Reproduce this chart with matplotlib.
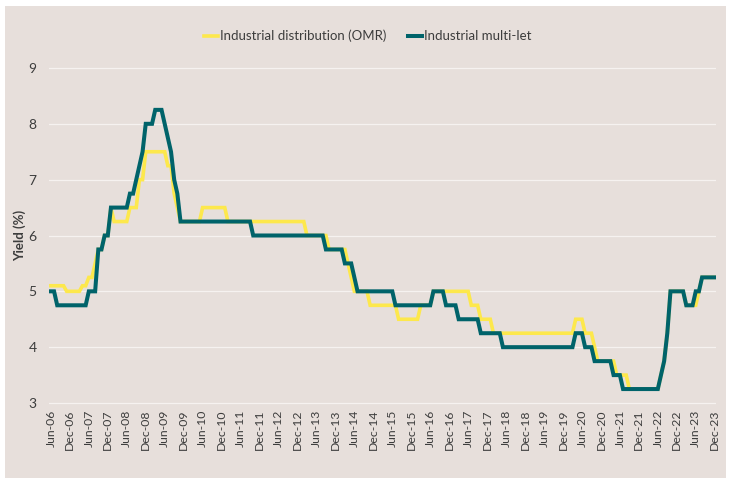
import matplotlib
matplotlib.use("Agg")
import matplotlib.pyplot as plt
from matplotlib.patches import Rectangle

plt.rcParams['font.family'] = ['Lato', 'DejaVu Sans']

# monthly yields (%), Jun-06 .. Dec-23, one row per calendar year
distribution = (
    [5.1, 5.1, 5.1, 5.1, 5.1, 5.0, 5.0]                                       # 2006 Jun-Dec
    + [5.0, 5.0, 5.0, 5.1, 5.1, 5.25, 5.25, 5.5, 5.75, 5.75, 6.0, 6.0]        # 2007
    + [6.5, 6.25, 6.25, 6.25, 6.25, 6.25, 6.5, 6.5, 6.5, 7.0, 7.0, 7.5]       # 2008
    + [7.5, 7.5, 7.5, 7.5, 7.5, 7.5, 7.25, 7.25, 6.75, 6.5, 6.25, 6.25]       # 2009
    + [6.25, 6.25, 6.25, 6.25, 6.25, 6.5, 6.5, 6.5, 6.5, 6.5, 6.5, 6.5]       # 2010
    + [6.5, 6.25, 6.25, 6.25, 6.25, 6.25, 6.25, 6.25, 6.25, 6.25, 6.25, 6.25]  # 2011
    + [6.25, 6.25, 6.25, 6.25, 6.25, 6.25, 6.25, 6.25, 6.25, 6.25, 6.25, 6.25]  # 2012
    + [6.25, 6.25, 6.0, 6.0, 6.0, 6.0, 6.0, 6.0, 6.0, 5.75, 5.75, 5.75]       # 2013
    + [5.75, 5.75, 5.75, 5.5, 5.25, 5.0, 5.0, 5.0, 5.0, 5.0, 4.75, 4.75]      # 2014
    + [4.75, 4.75, 4.75, 4.75, 4.75, 4.75, 4.75, 4.5, 4.5, 4.5, 4.5, 4.5]     # 2015
    + [4.5, 4.5, 4.75, 4.75, 4.75, 4.75, 5.0, 5.0, 5.0, 5.0, 5.0, 5.0]        # 2016
    + [5.0, 5.0, 5.0, 5.0, 5.0, 5.0, 4.75, 4.75, 4.75, 4.5, 4.5, 4.5]         # 2017
    + [4.5, 4.25, 4.25, 4.25, 4.25, 4.25, 4.25, 4.25, 4.25, 4.25, 4.25, 4.25]  # 2018
    + [4.25, 4.25, 4.25, 4.25, 4.25, 4.25, 4.25, 4.25, 4.25, 4.25, 4.25, 4.25]  # 2019
    + [4.25, 4.25, 4.25, 4.5, 4.5, 4.5, 4.25, 4.25, 4.25, 4.0, 3.75, 3.75]    # 2020
    + [3.75, 3.75, 3.75, 3.75, 3.5, 3.5, 3.5, 3.5, 3.25, 3.25, 3.25, 3.25]    # 2021
    + [3.25, 3.25, 3.25, 3.25, 3.25, 3.25, 3.5, 3.75, 4.25, 5.0, 5.0, 5.0]    # 2022
    + [5.0, 5.0, 4.75, 4.75, 4.75, 4.75, 5.0, 5.25, 5.25, 5.25, 5.25, 5.25]   # 2023
)

multi_let = (
    [5.0, 5.0, 4.75, 4.75, 4.75, 4.75, 4.75]                                  # 2006 Jun-Dec
    + [4.75, 4.75, 4.75, 4.75, 4.75, 5.0, 5.0, 5.0, 5.75, 5.75, 6.0, 6.0]     # 2007
    + [6.5, 6.5, 6.5, 6.5, 6.5, 6.5, 6.75, 6.75, 7.0, 7.25, 7.5, 8.0]         # 2008
    + [8.0, 8.0, 8.25, 8.25, 8.25, 8.0, 7.75, 7.5, 7.0, 6.75, 6.25, 6.25]     # 2009
    + [6.25, 6.25, 6.25, 6.25, 6.25, 6.25, 6.25, 6.25, 6.25, 6.25, 6.25, 6.25]  # 2010
    + [6.25, 6.25, 6.25, 6.25, 6.25, 6.25, 6.25, 6.25, 6.25, 6.0, 6.0, 6.0]   # 2011
    + [6.0, 6.0, 6.0, 6.0, 6.0, 6.0, 6.0, 6.0, 6.0, 6.0, 6.0, 6.0]            # 2012
    + [6.0, 6.0, 6.0, 6.0, 6.0, 6.0, 6.0, 6.0, 5.75, 5.75, 5.75, 5.75]        # 2013
    + [5.75, 5.75, 5.5, 5.5, 5.5, 5.25, 5.0, 5.0, 5.0, 5.0, 5.0, 5.0]         # 2014
    + [5.0, 5.0, 5.0, 5.0, 5.0, 5.0, 4.75, 4.75, 4.75, 4.75, 4.75, 4.75]      # 2015
    + [4.75, 4.75, 4.75, 4.75, 4.75, 4.75, 5.0, 5.0, 5.0, 5.0, 4.75, 4.75]    # 2016
    + [4.75, 4.75, 4.5, 4.5, 4.5, 4.5, 4.5, 4.5, 4.5, 4.25, 4.25, 4.25]       # 2017
    + [4.25, 4.25, 4.25, 4.25, 4.0, 4.0, 4.0, 4.0, 4.0, 4.0, 4.0, 4.0]        # 2018
    + [4.0, 4.0, 4.0, 4.0, 4.0, 4.0, 4.0, 4.0, 4.0, 4.0, 4.0, 4.0]            # 2019
    + [4.0, 4.0, 4.0, 4.25, 4.25, 4.25, 4.0, 4.0, 4.0, 3.75, 3.75, 3.75]      # 2020
    + [3.75, 3.75, 3.75, 3.5, 3.5, 3.5, 3.25, 3.25, 3.25, 3.25, 3.25, 3.25]   # 2021
    + [3.25, 3.25, 3.25, 3.25, 3.25, 3.25, 3.5, 3.75, 4.25, 5.0, 5.0, 5.0]    # 2022
    + [5.0, 5.0, 4.75, 4.75, 4.75, 5.0, 5.0, 5.25, 5.25, 5.25, 5.25, 5.25]    # 2023
)

years = list(range(2006, 2024))
tick_labels = [f"{m}-{str(y)[2:]}" for y in years for m in ("Jun", "Dec")]
y_ticks = [3, 4, 5, 6, 7, 8, 9]

bg = '#e7dfdb'
yellow = '#fde84c'
teal = '#00636a'
text_col = '#3d3d3d'

W, H = 731, 478
fig = plt.figure(figsize=(W / 100, H / 100), dpi=100, facecolor='white')
fig.patches.append(Rectangle((5 / W, 0), (W - 10) / W, (H - 6) / H,
                             transform=fig.transFigure, facecolor=bg,
                             edgecolor='none', zorder=-10))

# axes placed in pixels: x from 49 to 716, y=9 at 68 px and y=3 at 403 px
ax = fig.add_axes([49 / W, (H - 405.8) / H, 667.3 / W, 340.6 / H])
ax.set_facecolor(bg)
ax.patch.set_alpha(0)

months = list(range(len(multi_let)))
ax.plot(months, distribution, color=yellow, lw=2.6, solid_joinstyle='miter',
        label='Industrial distribution (OMR)', zorder=3)
ax.plot(months, multi_let, color=teal, lw=2.9, solid_joinstyle='miter',
        label='Industrial multi-let', zorder=4)

ax.set_xlim(-0.6, 210.5)
ax.set_ylim(2.95, 9.05)
ax.set_yticks(y_ticks)
ax.set_xticks(range(0, 211, 6))
ax.set_xticklabels(tick_labels, rotation=90, fontsize=8.8, color=text_col)
ax.tick_params(axis='y', length=0, pad=9, labelsize=10, labelcolor=text_col)
ax.tick_params(axis='x', length=0, pad=3)
ax.grid(axis='y', color='#f6f2f0', lw=0.9)
ax.set_axisbelow(True)
for s in ax.spines.values():
    s.set_visible(False)

ax.set_ylabel('Yield (%)', fontsize=9.5, fontweight='bold', color=text_col)
ax.yaxis.set_label_coords(-0.034, 0.5)

fig.legend(loc='center', bbox_to_anchor=(0.503, 0.925), ncol=2, frameon=False,
           fontsize=9.5, handlelength=1.1, handletextpad=0.15, columnspacing=1.6,
           labelcolor=text_col)

fig.savefig('out.png', dpi=100, facecolor='white')
